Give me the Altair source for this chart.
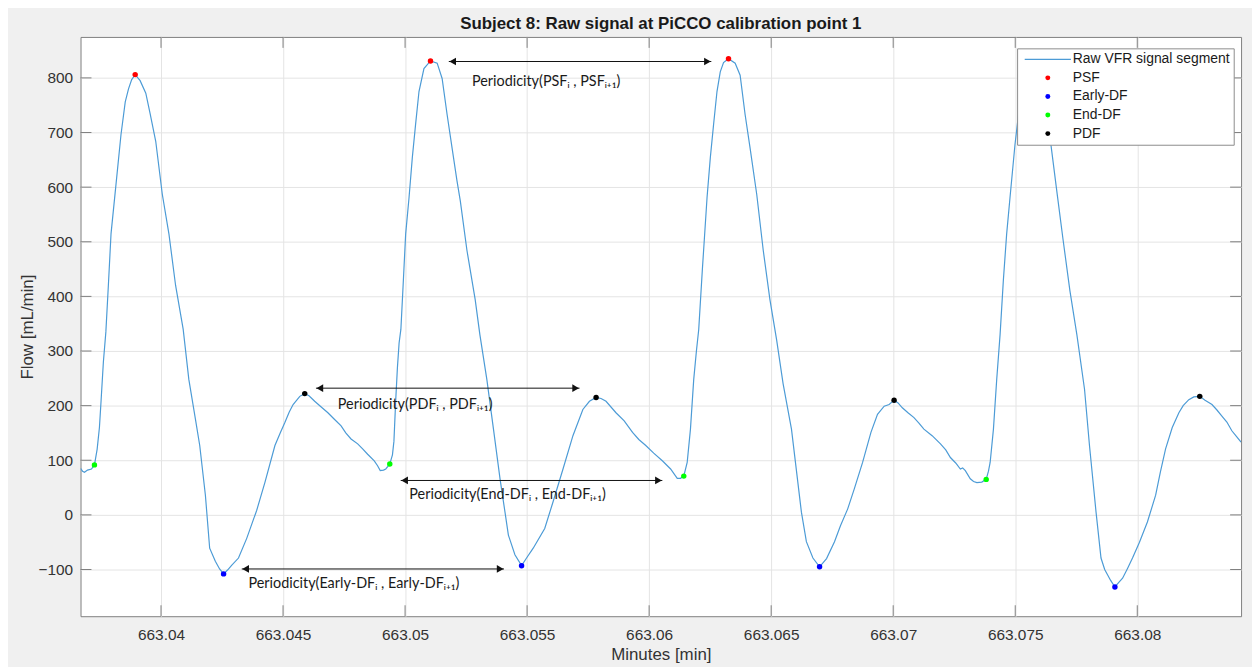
import altair as alt
import pandas as pd

# ---- raw VFR signal (minutes, flow in mL/min) ----
minutes = [
    663.036703, 663.036785, 663.036866, 663.036988, 663.037151, 663.037273, 663.037383, 663.037477,
    663.037546, 663.037639, 663.037741, 663.037843, 663.037953, 663.038156, 663.038360, 663.038535,
    663.038669, 663.038799, 663.038942, 663.039145, 663.039377, 663.039552, 663.039784, 663.040053,
    663.040326, 663.040598, 663.040908, 663.041140, 663.041412, 663.041587, 663.041819, 663.041994,
    663.042226, 663.042401, 663.042564, 663.042727, 663.042902, 663.043175, 663.043512, 663.043919,
    663.044261, 663.044668, 663.044884, 663.045075, 663.045250, 663.045413, 663.045686, 663.045889,
    663.046064, 663.046296, 663.046553, 663.046838, 663.047082, 663.047379, 663.047570, 663.047786,
    663.048059, 663.048262, 663.048466, 663.048738, 663.048873, 663.048983, 663.049117, 663.049210,
    663.049373, 663.049483, 663.049544, 663.049617, 663.049687, 663.049756, 663.049829, 663.049931,
    663.050024, 663.050163, 663.050297, 663.050431, 663.050570, 663.050773, 663.051042, 663.051315,
    663.051518, 663.051722, 663.051925, 663.052129, 663.052263, 663.052536, 663.052873, 663.053065,
    663.053350, 663.053622, 663.053891, 663.054094, 663.054233, 663.054501, 663.054774, 663.054978,
    663.055250, 663.055722, 663.056064, 663.056471, 663.056878, 663.057285, 663.057554, 663.057827,
    663.058030, 663.058234, 663.058641, 663.058978, 663.059320, 663.059577, 663.059862, 663.060187,
    663.060541, 663.060879, 663.061152, 663.061286, 663.061420, 663.061559, 663.061693, 663.061827,
    663.061937, 663.062031, 663.062182, 663.062373, 663.062507, 663.062641, 663.062780, 663.062914,
    663.063048, 663.063252, 663.063525, 663.063728, 663.063932, 663.064135, 663.064408, 663.064676,
    663.064949, 663.065222, 663.065490, 663.065832, 663.066239, 663.066443, 663.066711, 663.066984,
    663.067269, 663.067595, 663.067839, 663.068136, 663.068409, 663.068746, 663.069088, 663.069357,
    663.069630, 663.069833, 663.070037, 663.070199, 663.070374, 663.070606, 663.070851, 663.071054,
    663.071258, 663.071595, 663.071937, 663.072153, 663.072344, 663.072560, 663.072751, 663.072845,
    663.072955, 663.073158, 663.073293, 663.073427, 663.073630, 663.073810, 663.073903, 663.073972,
    663.074107, 663.074241, 663.074379, 663.074514, 663.074648, 663.074786, 663.074990, 663.075165,
    663.075368, 663.075613, 663.075857, 663.076142, 663.076467, 663.076711, 663.076956, 663.077241,
    663.077525, 663.077839, 663.078042, 663.078311, 663.078514, 663.078665, 663.078787, 663.078909,
    663.079084, 663.079235, 663.079398, 663.079601, 663.079805, 663.080090, 663.080415, 663.080753,
    663.080944, 663.081160, 663.081433, 663.081705, 663.081880, 663.082112, 663.082316, 663.082560,
    663.082776, 663.083061, 663.083264, 663.083468, 663.083671, 663.083875, 663.084078, 663.084253,
]
flow = [
    85, 80, 78, 82, 84, 91.5, 120, 160,
    210, 280, 335, 420, 515, 605, 696, 756,
    780, 797, 806, 795, 772, 735, 684, 587,
    514, 420, 340, 248, 175, 127, 36, -61,
    -85, -99, -108, -101, -92, -79, -43, 8,
    60, 127, 150, 169, 188, 202, 217, 222,
    218, 208, 198, 187, 176, 163, 150, 139,
    130, 121, 111, 99, 90, 81, 82, 84,
    93, 110, 135, 210, 270, 315, 340, 430,
    514, 581, 654, 715, 775, 817, 831, 827,
    799, 733, 672, 611, 575, 484, 394, 330,
    248, 157, 66, 5, -37, -73, -93, -79,
    -61, -25, 24, 84, 145, 193, 208, 215,
    213, 208, 187, 172, 151, 138, 127, 113,
    99, 84, 67, 67, 71, 96, 157, 248,
    300, 339, 450, 581, 654, 715, 775, 811,
    828, 835, 827, 805, 733, 672, 587, 484,
    394, 321, 240, 157, 5, -49, -79, -95,
    -80, -49, -20, 11, 48, 96, 151, 184,
    199, 202, 210, 205, 196, 187, 178, 168,
    157, 145, 130, 119, 105, 95, 84, 86,
    81, 66, 61, 59, 60, 65, 80, 96,
    157, 248, 330, 430, 514, 581, 678, 745,
    795, 815, 800, 750, 676, 590, 505, 410,
    330, 230, 127, 5, -79, -100, -110, -120,
    -132, -124, -116, -98, -79, -50, -13, 36,
    78, 121, 160, 187, 200, 211, 216, 217,
    210, 202, 192, 181, 170, 154, 143, 133,
]

# ---- detected fiducial points ----
psf_t = [663.038942, 663.051042, 663.063252, 663.075613]
psf_v = [806, 831, 835, 815]
early_t = [663.042564, 663.054774, 663.066984, 663.079084]
early_v = [-108, -93, -95, -132]
end_t = [663.037273, 663.049373, 663.061420, 663.073810]
end_v = [91.5, 93, 71, 65]
pdf_t = [663.045889, 663.057827, 663.070037, 663.082560]
pdf_v = [222, 215, 210, 217]

series_names = ["Raw VFR signal segment", "PSF", "Early-DF", "End-DF", "PDF"]
series_colors = ["#4c9bd6", "#ff0000", "#0000ff", "#00ff00", "#000000"]

# ---- periodicity annotations ----
arrow_start = [663.051791, 663.046349, 663.049821, 663.043309]
arrow_end = [663.062548, 663.057147, 663.060541, 663.054054]
arrow_level = [830, 232, 63, -99]
label_t = [663.052739, 663.047245, 663.050175, 663.043582]
label_v = [793, 202, 37, -126]
label_text = [
    "Periodicity(PSFᵢ , PSFᵢ₊₁)",
    "Periodicity(PDFᵢ , PDFᵢ₊₁)",
    "Periodicity(End-DFᵢ , End-DFᵢ₊₁)",
    "Periodicity(Early-DFᵢ , Early-DFᵢ₊₁)",
]

x_ticks = [663.04, 663.045, 663.05, 663.055, 663.06, 663.065, 663.07, 663.075, 663.08]
y_ticks = [-100, 0, 100, 200, 300, 400, 500, 600, 700, 800]
x_domain = [663.036703, 663.084253]
y_domain = [-185.5, 875]

W, H = 1168, 583
FONT = "Liberation Sans"
AX = "#7f7f7f"

signal = pd.DataFrame({"t": minutes, "v": flow})
points = pd.DataFrame({
    "t": psf_t + early_t + end_t + pdf_t,
    "v": psf_v + early_v + end_v + pdf_v,
    "type": ["PSF"] * 4 + ["Early-DF"] * 4 + ["End-DF"] * 4 + ["PDF"] * 4,
})
arrows = pd.DataFrame({"t": arrow_start, "t2": arrow_end, "v": arrow_level})
labels = pd.DataFrame({"t": label_t, "v": label_v, "txt": label_text})
xt = pd.DataFrame({"t": x_ticks})
yt = pd.DataFrame({"v": y_ticks})

xs = alt.Scale(domain=x_domain, nice=False, zero=False)
ys = alt.Scale(domain=y_domain, nice=False, zero=False)

xaxis = alt.Axis(values=x_ticks, format=".6~g", grid=True, gridColor="#e4e4e4", gridWidth=1,
                 ticks=False, tickSize=0, domain=False, labelFont=FONT, labelFontSize=15.5,
                 labelColor="#333333", labelPadding=11, labelFlush=False, labelOverlap=False,
                 titleFont=FONT, titleFontSize=17, titleFontWeight="normal", titleColor="#333333",
                 titleBaseline="top", titleX=W / 2, titleY=31)
yaxis = alt.Axis(values=y_ticks, grid=True, gridColor="#e4e4e4", gridWidth=1,
                 ticks=False, tickSize=0, domain=False, labelFont=FONT, labelFontSize=15.5,
                 labelColor="#333333", labelPadding=8, labelFlush=False, labelOverlap=False,
                 titleFont=FONT, titleFontSize=17, titleFontWeight="normal", titleColor="#333333",
                 titleAngle=270, titleBaseline="middle", titleX=-53, titleY=H / 2)

X = alt.X("t:Q", scale=xs, axis=xaxis, title="Minutes [min]")
Y = alt.Y("v:Q", scale=ys, axis=yaxis, title="Flow [mL/min]")

line = alt.Chart(signal).mark_line(color=series_colors[0], strokeWidth=1.2, clip=True).encode(x=X, y=Y)

tick_bottom = alt.Chart(xt).mark_rule(color=AX, strokeWidth=1).encode(
    x=X, y=alt.value(H), y2=alt.value(H - 11))
tick_top = alt.Chart(xt).mark_rule(color=AX, strokeWidth=1).encode(
    x=X, y=alt.value(0), y2=alt.value(11))
tick_left = alt.Chart(yt).mark_rule(color=AX, strokeWidth=1).encode(
    y=Y, x=alt.value(0), x2=alt.value(11))
tick_right = alt.Chart(yt).mark_rule(color=AX, strokeWidth=1).encode(
    y=Y, x=alt.value(W), x2=alt.value(W - 11))

arrow_line = alt.Chart(arrows).mark_rule(color="#111111", strokeWidth=1).encode(
    x=X, x2="t2:Q", y=Y)
head_left = alt.Chart(arrows).mark_point(shape="triangle-left", filled=True, color="#111111",
                                         size=60, opacity=1, xOffset=3.9).encode(x=X, y=Y)
head_right = alt.Chart(arrows).mark_point(shape="triangle-right", filled=True, color="#111111",
                                          size=60, opacity=1, xOffset=-3.9).encode(
    x=alt.X("t2:Q", scale=xs, axis=xaxis, title="Minutes [min]"), y=Y)
texts = alt.Chart(labels).mark_text(align="left", baseline="middle", font="Lato", fontSize=14.5,
                                    color="#1a1a1a").encode(x=X, y=Y, text="txt:N")

bar_path = "M-9.3,-0.26H9.3V0.26H-9.3Z"
leg = alt.Legend(orient="none", legendX=942.6, legendY=11.5, title=None, fillColor="white",
                 strokeColor="#8c8c8c", padding=4, labelFont=FONT, labelFontSize=14,
                 labelColor="#1a1a1a", symbolSize=25, symbolOffset=19.9, labelOffset=18.1,
                 rowPadding=4.7, symbolStrokeWidth=0, zindex=1, labelLimit=400)
pts = alt.Chart(points).mark_point(filled=True, size=30, opacity=1).encode(
    x=X, y=Y,
    color=alt.Color("type:N", scale=alt.Scale(domain=series_names, range=series_colors), legend=leg),
    shape=alt.Shape("type:N", scale=alt.Scale(domain=series_names,
                                              range=[bar_path, "circle", "circle", "circle", "circle"]),
                    legend=leg),
)

chart = alt.layer(
    line, tick_bottom, tick_top, tick_left, tick_right,
    arrow_line, head_left, head_right, texts, pts,
).properties(
    width=W, height=H,
    autosize=alt.AutoSizeParams(type="none"),
    padding={"left": 73, "top": 27, "right": 11, "bottom": 49},
    background="#f0f0f0",
    title=alt.TitleParams(text="Subject 8: Raw signal at PiCCO calibration point 1", font=FONT,
                          fontSize=17, fontWeight="bold", color="#1a1a1a", anchor="middle",
                          frame="group", baseline="alphabetic", offset=6, dy=16),
).configure_view(fill="white", stroke=AX, strokeWidth=1)

chart.save("out.html", embed_options={"renderer": "svg", "actions": False})
